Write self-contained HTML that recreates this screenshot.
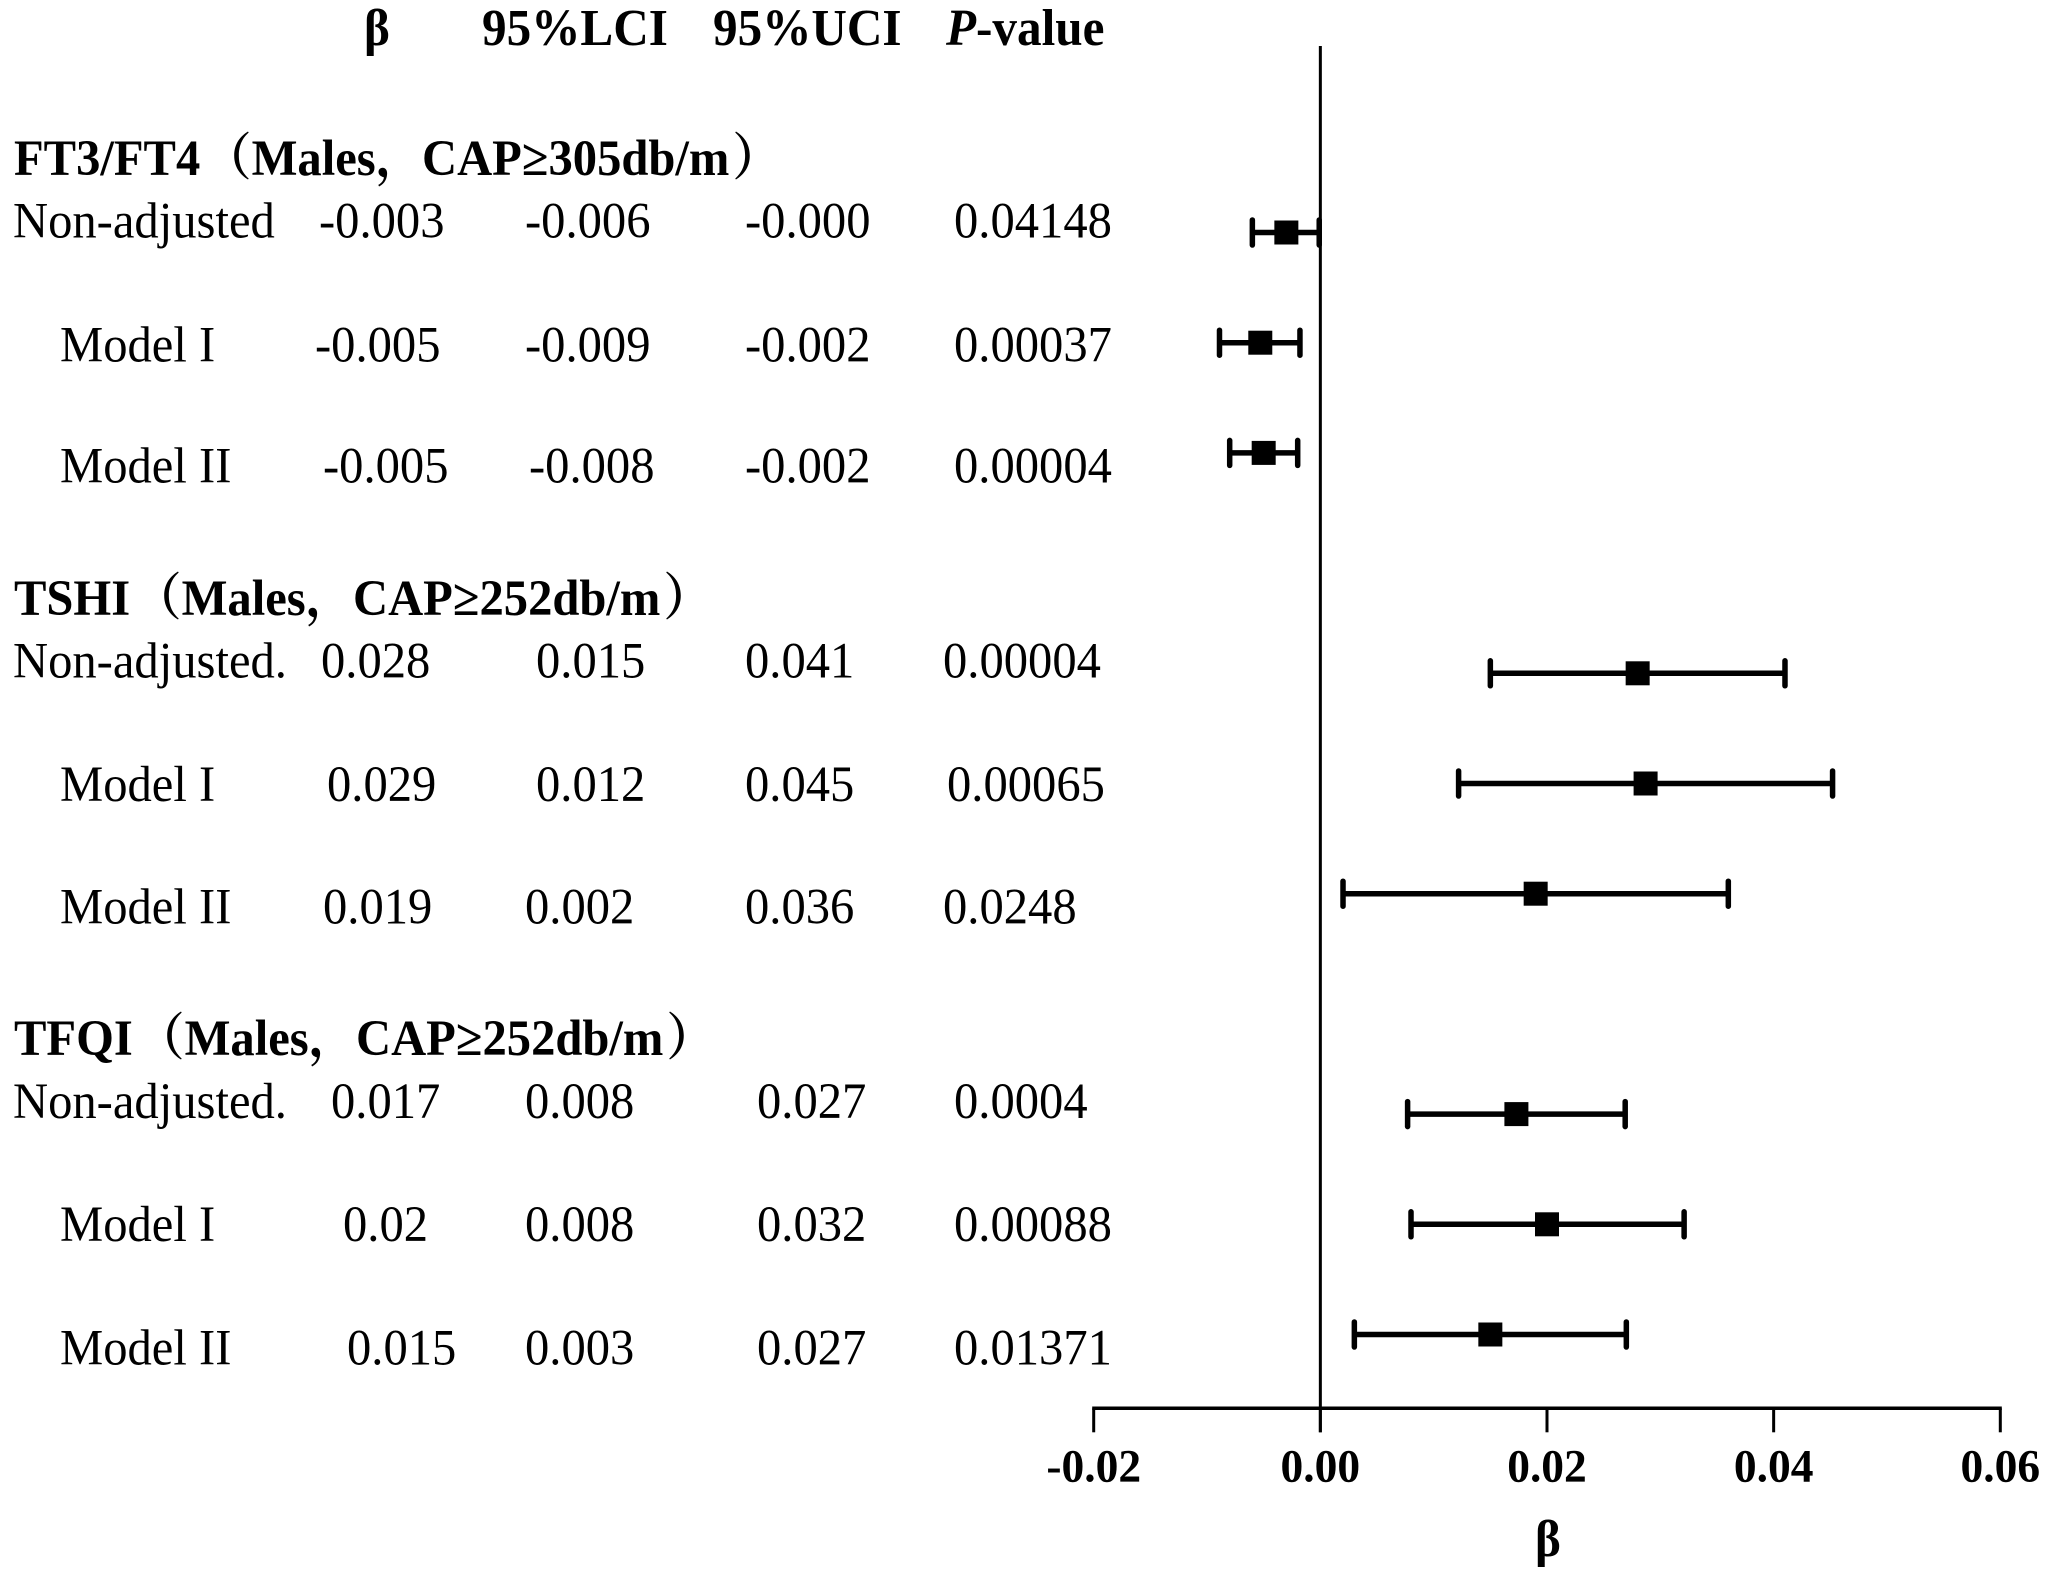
<!DOCTYPE html>
<html lang="en">
<head>
<meta charset="utf-8">
<title>Forest plot</title>
<style>
html,body{margin:0;padding:0;background:#fff;width:2050px;height:1578px;overflow:hidden}
svg{display:block}
text{font-family:"Liberation Serif","Noto Serif CJK SC",serif;fill:#000}
.r{font-size:48.6px}
.h{font-size:49.2px;font-weight:bold}
.g{font-size:48.6px;font-weight:bold}
.t{font-size:45.5px;font-weight:bold}
</style>
</head>
<body>
<svg id="chart" xmlns="http://www.w3.org/2000/svg" width="2050" height="1578" viewBox="0 0 2050 1578">
<rect width="2050" height="1578" fill="#fff"/>

<g>
<text class="h" transform="translate(364,45) scale(1,1.055)">β</text>
<text class="h" transform="translate(482,45) scale(1,1.055)">95%LCI</text>
<text class="h" transform="translate(713,45) scale(1,1.055)">95%UCI</text>
<text class="h" transform="translate(946,45) scale(1,1.055)"><tspan font-style="italic">P</tspan>-value</text>
</g>

<g>
<text class="g" transform="translate(14,175) scale(1,1.045)">FT3/FT4</text>
<text class="g" transform="translate(203,175) scale(1,1.045)">（Males，</text>
<text class="g" transform="translate(422,175) scale(1,1.045)">CAP≥305db/m<tspan dx="3">）</tspan></text>

<text class="r" transform="translate(13,237.5) scale(1,1.037)">Non-adjusted</text>
<text class="r" transform="translate(319,237.5) scale(1,1.037)">-0.003</text>
<text class="r" transform="translate(525,237.5) scale(1,1.037)">-0.006</text>
<text class="r" transform="translate(745,237.5) scale(1,1.037)">-0.000</text>
<text class="r" transform="translate(954,237.5) scale(1,1.037)">0.04148</text>

<text class="r" transform="translate(60,361.5) scale(1,1.037)">Model I</text>
<text class="r" transform="translate(315,361.5) scale(1,1.037)">-0.005</text>
<text class="r" transform="translate(525,361.5) scale(1,1.037)">-0.009</text>
<text class="r" transform="translate(745,361.5) scale(1,1.037)">-0.002</text>
<text class="r" transform="translate(954,361.5) scale(1,1.037)">0.00037</text>

<text class="r" transform="translate(60,482.5) scale(1,1.037)">Model II</text>
<text class="r" transform="translate(323,482.5) scale(1,1.037)">-0.005</text>
<text class="r" transform="translate(529,482.5) scale(1,1.037)">-0.008</text>
<text class="r" transform="translate(745,482.5) scale(1,1.037)">-0.002</text>
<text class="r" transform="translate(954,482.5) scale(1,1.037)">0.00004</text>
</g>

<g>
<text class="g" transform="translate(14,615) scale(1,1.045)">TSHI</text>
<text class="g" transform="translate(133,615) scale(1,1.045)">（Males，</text>
<text class="g" transform="translate(353,615) scale(1,1.045)">CAP≥252db/m<tspan dx="3">）</tspan></text>

<text class="r" transform="translate(13,677.5) scale(1,1.037)">Non-adjusted.</text>
<text class="r" transform="translate(321,677.5) scale(1,1.037)">0.028</text>
<text class="r" transform="translate(536,677.5) scale(1,1.037)">0.015</text>
<text class="r" transform="translate(745,677.5) scale(1,1.037)">0.041</text>
<text class="r" transform="translate(943,677.5) scale(1,1.037)">0.00004</text>

<text class="r" transform="translate(60,801) scale(1,1.037)">Model I</text>
<text class="r" transform="translate(327,801) scale(1,1.037)">0.029</text>
<text class="r" transform="translate(536,801) scale(1,1.037)">0.012</text>
<text class="r" transform="translate(745,801) scale(1,1.037)">0.045</text>
<text class="r" transform="translate(947,801) scale(1,1.037)">0.00065</text>

<text class="r" transform="translate(60,923.5) scale(1,1.037)">Model II</text>
<text class="r" transform="translate(323,923.5) scale(1,1.037)">0.019</text>
<text class="r" transform="translate(525,923.5) scale(1,1.037)">0.002</text>
<text class="r" transform="translate(745,923.5) scale(1,1.037)">0.036</text>
<text class="r" transform="translate(943,923.5) scale(1,1.037)">0.0248</text>
</g>

<g>
<text class="g" transform="translate(14,1055) scale(1,1.045)">TFQI</text>
<text class="g" transform="translate(136,1055) scale(1,1.045)">（Males，</text>
<text class="g" transform="translate(356,1055) scale(1,1.045)">CAP≥252db/m<tspan dx="3">）</tspan></text>

<text class="r" transform="translate(13,1118) scale(1,1.037)">Non-adjusted.</text>
<text class="r" transform="translate(331,1118) scale(1,1.037)">0.017</text>
<text class="r" transform="translate(525,1118) scale(1,1.037)">0.008</text>
<text class="r" transform="translate(757,1118) scale(1,1.037)">0.027</text>
<text class="r" transform="translate(954,1118) scale(1,1.037)">0.0004</text>

<text class="r" transform="translate(60,1241) scale(1,1.037)">Model I</text>
<text class="r" transform="translate(343,1241) scale(1,1.037)">0.02</text>
<text class="r" transform="translate(525,1241) scale(1,1.037)">0.008</text>
<text class="r" transform="translate(757,1241) scale(1,1.037)">0.032</text>
<text class="r" transform="translate(954,1241) scale(1,1.037)">0.00088</text>

<text class="r" transform="translate(60,1364.5) scale(1,1.037)">Model II</text>
<text class="r" transform="translate(347,1364.5) scale(1,1.037)">0.015</text>
<text class="r" transform="translate(525,1364.5) scale(1,1.037)">0.003</text>
<text class="r" transform="translate(757,1364.5) scale(1,1.037)">0.027</text>
<text class="r" transform="translate(954,1364.5) scale(1,1.037)">0.01371</text>
</g>

<g id="plot"></g>
<text class="h" transform="translate(1548,1556) scale(1,1.05)" text-anchor="middle">β</text>
</svg>

<script>
const rowLabels = ["FT3/FT4 Non-adjusted","FT3/FT4 Model I","FT3/FT4 Model II","TSHI Non-adjusted","TSHI Model I","TSHI Model II","TFQI Non-adjusted","TFQI Model I","TFQI Model II"];
const betaValues = [-0.003,-0.0053,-0.005,0.028,0.0287,0.019,0.0173,0.02,0.015];
const lowerValues = [-0.006,-0.0089,-0.008,0.015,0.0122,0.002,0.0077,0.008,0.003];
const upperValues = [-0.0001,-0.0018,-0.002,0.041,0.0452,0.036,0.0269,0.0321,0.027];
const xTickValues = [-0.02,0,0.02,0.04,0.06];
const xTickLabels = ["-0.02","0.00","0.02","0.04","0.06"];

const NS = "http://www.w3.org/2000/svg";
const plot = document.getElementById("plot");
const xDomain = [-0.02, 0.06];
const xRange = [1093.7, 2000.3];
const xScale = v => xRange[0] + (v - xDomain[0]) / (xDomain[1] - xDomain[0]) * (xRange[1] - xRange[0]);
const yScale = i => 232.5 + (Math.floor(i / 3) * 4 + i % 3) * 110.2;

function make(tag, attrs) {
  const el = document.createElementNS(NS, tag);
  for (const k in attrs) el.setAttribute(k, attrs[k]);
  plot.appendChild(el);
  return el;
}

const axisY = 1408.3;
const tickBottom = 1432.3;

const refLine = make("line", {x1: xScale(0), x2: xScale(0), y1: 46, y2: tickBottom, stroke: "#000", "stroke-width": 3});



const axisLine = make("line", {x1: xScale(xDomain[0]) - 1.5, x2: xScale(xDomain[1]) + 1.5, y1: axisY, y2: axisY, stroke: "#000", "stroke-width": 3.5});



xTickValues.forEach((v, i) => {
  const tick = make("line", {x1: xScale(v), x2: xScale(v), y1: axisY, y2: tickBottom, stroke: "#000", "stroke-width": 3});
  
  
  const label = make("text", {class: "t", "text-anchor": "middle", transform: "translate(" + xScale(v) + ",1481.5) scale(1,1.03)"});
  label.textContent = xTickLabels[i];
  
  
});

rowLabels.forEach((name, i) => {
  const y = yScale(i);
  const whisker = make("line", {x1: xScale(lowerValues[i]), x2: xScale(upperValues[i]), y1: y, y2: y, stroke: "#000", "stroke-width": 5.5});
  
  
  [lowerValues[i], upperValues[i]].forEach(v => {
    const cap = make("line", {x1: xScale(v), x2: xScale(v), y1: y - 12.5, y2: y + 12.5, stroke: "#000", "stroke-width": 5.5, "stroke-linecap": "round"});
    
    
  });
  const marker = make("rect", {x: xScale(betaValues[i]) - 12, y: y - 12, width: 24, height: 24, fill: "#000"});
  
  
  const tip = make("title", {});
  tip.textContent = name;
  marker.appendChild(tip);
});
</script>
</body>
</html>
